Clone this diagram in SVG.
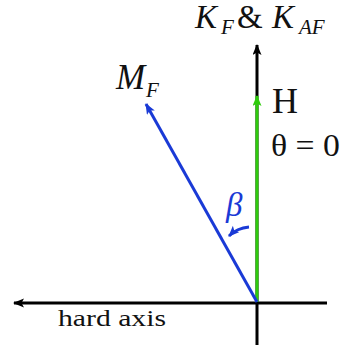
<svg xmlns="http://www.w3.org/2000/svg" width="342" height="345" viewBox="0 0 342 345">
<style>
.t{font-family:"Liberation Serif","Times New Roman",serif;fill:#111}
.i{font-style:italic}
.ax{stroke:#000;stroke-width:3;fill:none}
.bl{stroke:#1a3ad6;stroke-width:3;fill:none}
.gr{stroke:#2ecc0c;stroke-width:3;fill:none}
</style>
<defs>
<marker id="ak" markerUnits="userSpaceOnUse" markerWidth="12" markerHeight="10" refX="10" refY="4.5" orient="auto"><path d="M0,0 L11,4.5 L0,9 L2.5,4.5 z" fill="#000"/></marker>
<marker id="ab" markerUnits="userSpaceOnUse" markerWidth="12" markerHeight="10" refX="10" refY="4.5" orient="auto"><path d="M0,0 L11,4.5 L0,9 L2.5,4.5 z" fill="#1a3ad6"/></marker>
<marker id="ag" markerUnits="userSpaceOnUse" markerWidth="12" markerHeight="10" refX="10" refY="4.5" orient="auto"><path d="M0,0 L11,4.5 L0,9 L2.5,4.5 z" fill="#2ecc0c"/></marker>
</defs>
<g id="connectors">
<line class="ax" x1="327" y1="303" x2="14" y2="303" marker-end="url(#ak)"/>
<line class="ax" x1="257" y1="345" x2="257" y2="45" marker-end="url(#ak)"/>
<line class="gr" x1="257" y1="302" x2="257" y2="96" marker-end="url(#ag)"/>
<line class="bl" x1="257" y1="302" x2="146" y2="104" marker-end="url(#ab)"/>
<path class="bl" d="M249,227 Q237,228 229,236" marker-end="url(#ab)"/>
</g>
<g id="label-k">
<text class="t" y="28" font-size="33"><tspan class="i" x="195">K</tspan><tspan class="i" x="221" y="34" font-size="21">F</tspan><tspan x="237" y="28">&amp;</tspan><tspan class="i" x="272">K</tspan><tspan class="i" x="299" y="34" font-size="21">AF</tspan></text>
</g>
<g id="label-m">
<text class="t" y="89" font-size="35"><tspan class="i" x="116">M</tspan><tspan class="i" x="146" y="97" font-size="21">F</tspan></text>
</g>
<g id="label-h">
<text class="t" x="272" y="113" font-size="36">H</text>
<text class="t" x="271" y="156" font-size="31" textLength="69" lengthAdjust="spacingAndGlyphs">θ = 0</text>
</g>
<g id="label-beta">
<text class="t i" x="226" y="216" font-size="33" style="fill:#1a3ad6">β</text>
</g>
<g id="label-hard">
<text class="t" x="58" y="326" font-size="24" textLength="108" lengthAdjust="spacingAndGlyphs">hard axis</text>
</g>
</svg>
